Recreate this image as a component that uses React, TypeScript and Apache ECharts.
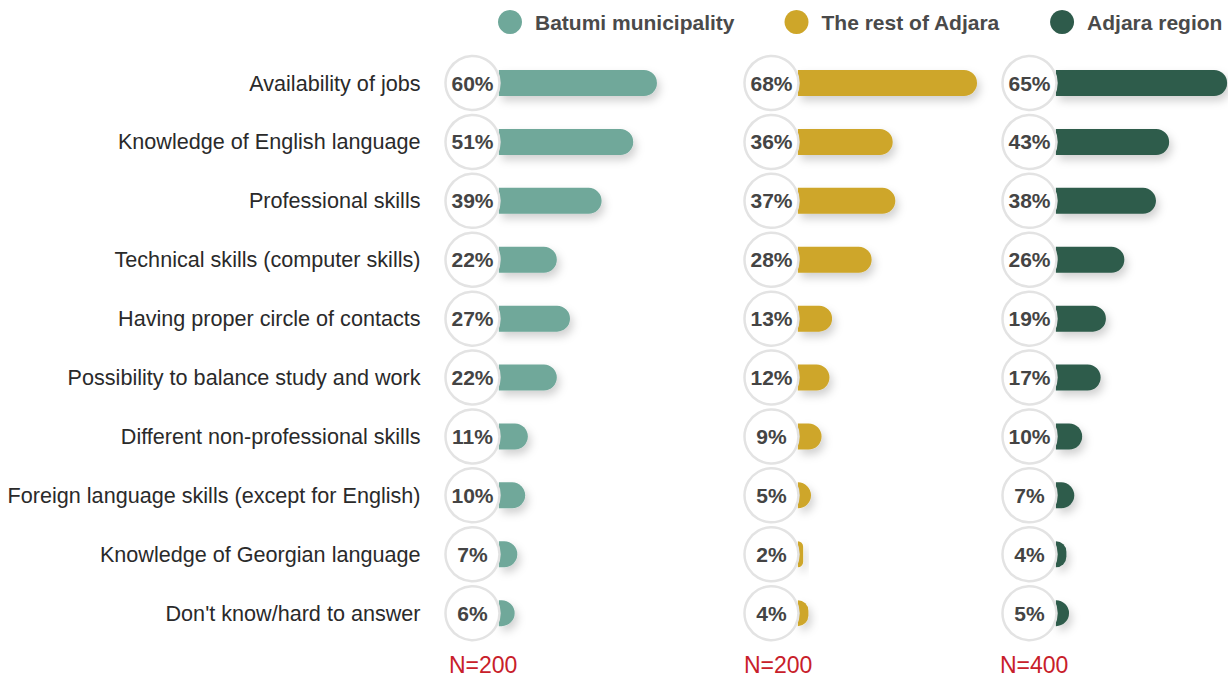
import React, { useEffect, useRef } from "react";
import * as echarts from "echarts";

const CATEGORIES = [
  "Availability of jobs",
  "Knowledge of English language",
  "Professional skills",
  "Technical skills (computer skills)",
  "Having proper circle of contacts",
  "Possibility to balance study and work",
  "Different non-professional skills",
  "Foreign language skills (except for English)",
  "Knowledge of Georgian language",
  "Don't know/hard to answer",
];
const BATUMI = [60, 51, 39, 22, 27, 22, 11, 10, 7, 6];
const REST_OF_ADJARA = [68, 36, 37, 28, 13, 12, 9, 5, 2, 4];
const ADJARA_REGION = [65, 43, 38, 26, 19, 17, 10, 7, 4, 5];
const SERIES_NAMES = ["Batumi municipality", "The rest of Adjara", "Adjara region"];
const SAMPLE_LABELS = ["N=200", "N=200", "N=400"];
const COLORS = ["#6FA89A", "#CEA629", "#2E5B4B"];

const PANEL_VALUES = [BATUMI, REST_OF_ADJARA, ADJARA_REGION];
const GRID_LEFTS = [472.5, 771.5, 1029.5];
const X_MAXES = [70, 70, 65];
const SAMPLE_X = [449, 744, 1000];
const X_MIN = -10;
const PX_PER_UNIT = 2.635;
const FONT = "'Liberation Sans', Arial, Helvetica, sans-serif";

export default function App() {
  const ref = useRef<HTMLDivElement>(null);
  useEffect(() => {
    if (!ref.current) return;
    const chart = echarts.init(ref.current, undefined, { renderer: "svg" });
    const gridTop = 53.6;
    const gridHeight = 589;

    const grid = GRID_LEFTS.map((l, i) => ({
      left: l,
      top: gridTop,
      width: (X_MAXES[i] - X_MIN) * PX_PER_UNIT,
      height: gridHeight,
    }));
    const xAxis = GRID_LEFTS.map((_, i) => ({
      type: "value",
      gridIndex: i,
      min: X_MIN,
      max: X_MAXES[i],
      show: false,
      splitLine: { show: false },
    }));
    const yAxis = GRID_LEFTS.map((_, i) => ({
      type: "category",
      gridIndex: i,
      data: CATEGORIES,
      inverse: true,
      axisLine: { show: false },
      axisTick: { show: false },
      splitLine: { show: false },
      axisLabel: {
        show: i === 0,
        margin: 52,
        fontSize: 21.6,
        color: "#2a2a2a",
        fontFamily: FONT,
      },
    }));

    const series: any[] = [];
    PANEL_VALUES.forEach((vals, i) => {
      series.push({
        name: SERIES_NAMES[i],
        type: "bar",
        xAxisIndex: i,
        yAxisIndex: i,
        data: vals,
        barWidth: 26,
        itemStyle: {
          color: COLORS[i],
          opacity: 1,
          borderRadius: [0, 13, 13, 0],
          shadowColor: "rgba(0,0,0,0.18)",
          shadowBlur: 8,
          shadowOffsetX: 3,
          shadowOffsetY: 5,
        },
        z: 2,
      });
      series.push({
        name: SERIES_NAMES[i] + " labels",
        type: "scatter",
        xAxisIndex: i,
        yAxisIndex: i,
        clip: false,
        data: vals.map((v, j) => [X_MIN, j, v]),
        symbol: "circle",
        symbolSize: 54,
        itemStyle: { color: "#ffffff", borderColor: "#e3e3e3", borderWidth: 2.5, opacity: 1 },
        label: {
          show: true,
          position: "inside",
          formatter: (p: any) => p.data[2] + "%",
          fontSize: 21,
          fontWeight: "bold",
          color: "#444444",
          opacity: 1,
          fontFamily: FONT,
        },
        z: 5,
      });
    });

    chart.setOption({
      animation: false,
      backgroundColor: "#ffffff",
      textStyle: { fontFamily: FONT },
      legend: {
        data: SERIES_NAMES,
        left: 498,
        top: 10,
        width: 730,
        padding: 0,
        icon: "circle",
        itemWidth: 24,
        itemHeight: 24,
        itemGap: 50,
        textStyle: { fontSize: 21, fontWeight: "bold", color: "#4a4a4a", fontFamily: FONT, padding: [0, 0, 0, 8] },
      },
      grid,
      xAxis,
      yAxis,
      series,
      graphic: SAMPLE_LABELS.map((t, i) => ({
        type: "text",
        left: SAMPLE_X[i],
        top: 653,
        style: { text: t, fontSize: 23, fill: "#C8202A", fontFamily: FONT },
      })),
    });
    return () => chart.dispose();
  }, []);
  return (
    <div
      ref={ref}
      style={{ position: "fixed", left: 0, top: 0, width: 1228, height: 677 }}
    />
  );
}
